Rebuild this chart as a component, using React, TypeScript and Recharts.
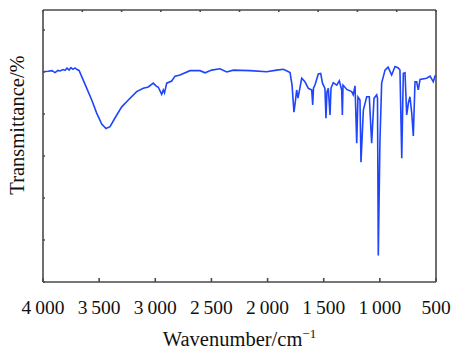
import React from "react";
import { LineChart, Line, XAxis, YAxis } from "recharts";

// Wavenumber (cm^-1) and transmittance (% of frame height, arbitrary units)
const wavenumbers = [
  4000, 3955, 3920, 3893, 3866, 3849, 3822, 3804, 3786, 3768, 3751, 3733, 3715, 3697, 3679,
  3655, 3611, 3566, 3522, 3477, 3439, 3403, 3359, 3299, 3240, 3166, 3107, 3062, 3018, 2994,
  2973, 2943, 2929, 2918, 2898, 2854, 2824, 2780, 2691, 2602, 2557, 2498, 2424, 2364, 2305,
  2156, 2008, 1919, 1860, 1827, 1800, 1782, 1765, 1751, 1741, 1729, 1696, 1667, 1637, 1607,
  1598, 1591, 1578, 1548, 1527, 1511, 1489, 1480, 1471, 1459, 1444, 1435, 1415, 1384, 1361,
  1340, 1334, 1328, 1295, 1251, 1237, 1221, 1206, 1195, 1177, 1168, 1147, 1117, 1094, 1073,
  1052, 1028, 1021, 1014, 999, 984, 954, 927, 895, 865, 836, 821, 805, 791, 776,
  761, 746, 732, 716, 702, 687, 672, 658, 642, 583, 553, 524, 509, 500,
];
const transmittance = [
  77.3, 77.5, 77.7, 77.0, 77.8, 77.6, 78.1, 77.8, 78.6, 77.9, 78.8, 78.2, 78.7, 78.1, 77.8,
  75.5, 71.3, 66.9, 62.1, 58.1, 56.4, 57.1, 60.3, 64.4, 66.9, 70.0, 71.2, 71.7, 73.1, 72.1,
  71.6, 69.0, 70.6, 69.5, 73.1, 73.9, 75.7, 76.1, 77.7, 77.7, 76.9, 77.9, 78.4, 77.2, 77.9,
  77.7, 77.3, 77.9, 78.2, 77.6, 77.0, 72.4, 62.4, 66.9, 70.6, 67.6, 74.9, 73.6, 71.2, 70.6,
  65.1, 71.3, 72.4, 76.5, 76.7, 73.1, 71.2, 60.2, 69.9, 71.2, 61.4, 71.3, 73.3, 72.4, 74.0,
  70.6, 61.4, 72.4, 70.8, 70.0, 68.8, 72.1, 51.0, 68.0, 66.9, 44.0, 63.2, 68.1, 68.1, 51.0,
  67.5, 68.8, 67.6, 9.7, 52.2, 73.1, 77.9, 79.0, 76.1, 79.2, 78.7, 77.9, 45.5, 76.7, 76.9,
  61.4, 65.8, 68.1, 62.1, 53.7, 73.6, 73.6, 70.6, 74.5, 74.9, 75.7, 73.6, 75.7, 75.7,
];

const xTicks = [4000, 3500, 3000, 2500, 2000, 1500, 1000, 500];
const xTickLabels = ["4\u2009000", "3\u2009500", "3\u2009000", "2\u2009500", "2\u2009000", "1\u2009500", "1\u2009000", "500"];
const topTicks = [4000, 3650, 3300, 2950, 2600, 2250, 1900, 1550, 1200, 850, 500];
const leftTicks = [0, 15.44, 30.88, 46.32, 61.76, 77.2, 92.64];
const rightTicks = [0, 10, 20, 30, 40, 50, 60, 70, 80, 90, 100];

const data = wavenumbers.map((w, i) => ({ w, t: transmittance[i] }));

const FONT = "'Liberation Serif', 'Times New Roman', serif";
const AXIS = "#4a4a4a";
const BLUE = "#1f45fc";

const BottomTick = (props: any) => {
  const { x, y, payload } = props;
  const idx = xTicks.indexOf(payload.value);
  return (
    <text x={x} y={y + 36} textAnchor="middle" fontFamily={FONT} fontSize={19.5} fill="#111">
      {idx >= 0 ? xTickLabels[idx] : payload.value}
    </text>
  );
};

const Empty = () => <g />;

export default function App() {
  return (
    <>
      <style>{"html, body { margin: 0; padding: 0; overflow: hidden; }"}</style>
      <LineChart
        width={451}
        height={350}
        data={data}
        margin={{ top: 8, right: 0, bottom: 0, left: 0 }}
      >
        <XAxis
          xAxisId="bottom"
          dataKey="w"
          type="number"
          domain={[500, 4000]}
          reversed
          ticks={xTicks}
          orientation="bottom"
          height={68}
          tickSize={-4}
          tickMargin={0}
          stroke={AXIS}
          strokeWidth={1.6}
          tick={<BottomTick />}
          interval={0}
          label={{
            content: () => (
              <text x={239.5} y={346} textAnchor="middle" fontFamily={FONT} fontSize={20.5} fill="#111">
                Wavenumber/cm
                <tspan dy={-8} fontSize={13}>−1</tspan>
              </text>
            ),
          }}
        />
        <XAxis
          xAxisId="top"
          dataKey="w"
          type="number"
          domain={[500, 4000]}
          reversed
          ticks={topTicks}
          orientation="top"
          height={2}
          tickSize={-2}
          stroke={AXIS}
          strokeWidth={1.6}
          tick={<Empty />}
          interval={0}
        />
        <YAxis
          yAxisId="left"
          type="number"
          domain={[0, 100]}
          ticks={leftTicks}
          orientation="left"
          width={43}
          tickSize={-2}
          stroke={AXIS}
          strokeWidth={1.6}
          tick={<Empty />}
          interval={0}
          label={{
            content: () => (
              <g transform="translate(24, 125) rotate(-90)">
                <text x={0} y={0} textAnchor="middle" fontFamily={FONT} fontSize={20.5} fill="#111">
                  Transmittance/%
                </text>
              </g>
            ),
          }}
        />
        <YAxis
          yAxisId="right"
          type="number"
          domain={[0, 100]}
          ticks={rightTicks}
          orientation="right"
          width={15}
          tickSize={-2}
          stroke={AXIS}
          strokeWidth={1.6}
          tick={<Empty />}
          interval={0}
        />
        <Line
          xAxisId="bottom"
          yAxisId="left"
          dataKey="t"
          type="linear"
          stroke={BLUE}
          strokeWidth={1.6}
          dot={false}
          isAnimationActive={false}
        />
      </LineChart>
    </>
  );
}
